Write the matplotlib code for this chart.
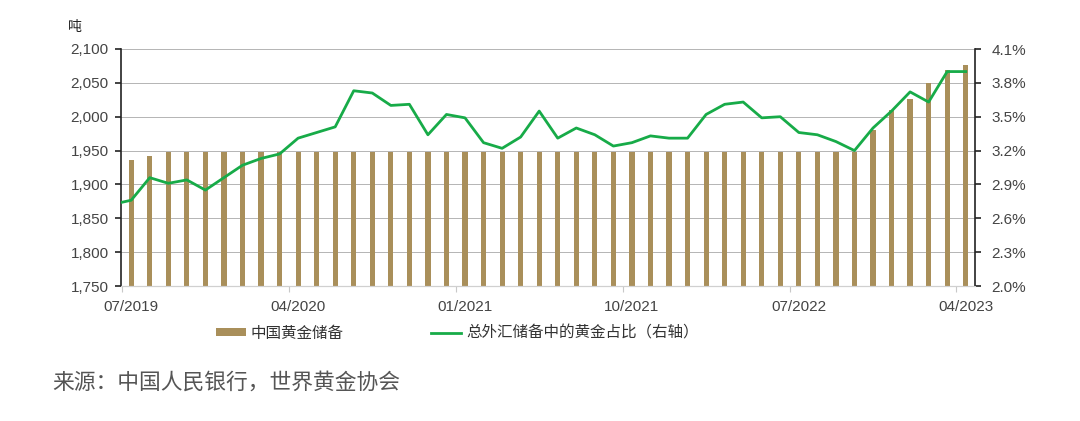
import numpy as np
import matplotlib
matplotlib.use("Agg")
import matplotlib.pyplot as plt
from matplotlib.ticker import FuncFormatter

plt.rcParams['font.family'] = ['Liberation Sans', 'Noto Sans CJK SC', 'DejaVu Sans']

# 月份：07/2019 - 04/2023
months = ['07/2019', '08/2019', '09/2019', '10/2019', '11/2019', '12/2019',
          '01/2020', '02/2020', '03/2020', '04/2020', '05/2020', '06/2020',
          '07/2020', '08/2020', '09/2020', '10/2020', '11/2020', '12/2020',
          '01/2021', '02/2021', '03/2021', '04/2021', '05/2021', '06/2021',
          '07/2021', '08/2021', '09/2021', '10/2021', '11/2021', '12/2021',
          '01/2022', '02/2022', '03/2022', '04/2022', '05/2022', '06/2022',
          '07/2022', '08/2022', '09/2022', '10/2022', '11/2022', '12/2022',
          '01/2023', '02/2023', '03/2023', '04/2023']

# 中国黄金储备（吨）
reserves = [1936.5, 1942.4, 1948.3, 1948.3, 1948.3, 1948.3,
            1948.3, 1948.3, 1948.3, 1948.3, 1948.3, 1948.3,
            1948.3, 1948.3, 1948.3, 1948.3, 1948.3, 1948.3,
            1948.3, 1948.3, 1948.3, 1948.3, 1948.3, 1948.3,
            1948.3, 1948.3, 1948.3, 1948.3, 1948.3, 1948.3,
            1948.3, 1948.3, 1948.3, 1948.3, 1948.3, 1948.3,
            1948.3, 1948.3, 1948.3, 1948.3, 1980.3, 2010.5,
            2025.5, 2050.4, 2068.4, 2076.5]

# 总外汇储备中的黄金占比（%），第一个值为图左端起点
share_start = 2.74
share = [2.76, 2.96, 2.91, 2.94, 2.85, 2.96,
         3.07, 3.13, 3.17, 3.31, 3.36, 3.41,
         3.73, 3.71, 3.60, 3.61, 3.34, 3.52,
         3.49, 3.27, 3.22, 3.32, 3.55, 3.31,
         3.40, 3.34, 3.24, 3.27, 3.33, 3.31,
         3.31, 3.52, 3.61, 3.63, 3.49, 3.50,
         3.36, 3.34, 3.28, 3.20, 3.40, 3.55,
         3.72, 3.63, 3.90, 3.90]

label_months = ['07/2019', '04/2020', '01/2021', '10/2021', '07/2022', '04/2023']

bar_color = '#a98f5a'
line_color = '#17ab48'
text_gray = '#444444'

fig = plt.figure(figsize=(10.8, 4.21), dpi=100)
ax = fig.add_axes([121 / 1080, 1 - 286 / 421, (975 - 121) / 1080, (286 - 49) / 421])
ax2 = ax.twinx()

x = np.arange(len(months))
bars = ax.bar(x, reserves, width=0.28, color=bar_color, zorder=2)
ax.set_ylim(1750, 2100)
ax.set_yticks(np.arange(1750, 2101, 50))
ax.yaxis.set_major_formatter(FuncFormatter(lambda v, p: f'{v:,.0f}'))
ax.set_xlim(-0.55, len(months) - 0.5)
ax.grid(axis='y', color='#b4b4b4', lw=0.7, zorder=0)
ax.set_axisbelow(True)

line_x = np.concatenate([[-0.55], x])
line_y = [share_start] + share
line, = ax2.plot(line_x, line_y, color=line_color, lw=2.0, zorder=3)
ax2.set_ylim(2.0, 4.1)
ax2.set_yticks(np.arange(2.0, 4.11, 0.3))
ax2.yaxis.set_major_formatter(FuncFormatter(lambda v, p: f'{v:.1f}%'))

# x 轴：标签在柱子中间，刻度在分界处
idx = [months.index(m) for m in label_months]
ax.set_xticks(idx)
ax.set_xticklabels(label_months)
ax.set_xticks([i - 0.5 for i in idx], minor=True)
ax.tick_params(axis='x', which='major', length=0, pad=10, labelsize=11, labelcolor=text_gray)
ax.tick_params(axis='x', which='minor', length=4, color='#c8c8c8', width=0.8)

ax.tick_params(axis='y', length=4, width=1.2, color='#222222', pad=5, labelsize=11, labelcolor=text_gray)
ax2.tick_params(axis='y', length=4, width=1.2, color='#222222', pad=8, labelsize=11, labelcolor=text_gray)

for a in (ax, ax2):
    a.spines['top'].set_visible(False)
    a.spines['bottom'].set_color('#d0d0d0')
    a.spines['left'].set_color('#222222')
    a.spines['right'].set_color('#222222')
    a.spines['left'].set_linewidth(1.2)
    a.spines['right'].set_linewidth(1.2)
ax.spines['right'].set_visible(False)
ax2.spines['left'].set_visible(False)

fig.text(68 / 1080, 1 - 27 / 421, '吨', fontsize=10, color='#222222', va='center',
         family=['Noto Sans CJK SC'])

leg = fig.legend([bars, line], ['中国黄金储备', '总外汇储备中的黄金占比（右轴）'],
                 loc='center left', bbox_to_anchor=(216 / 1080, 1 - 333 / 421),
                 ncol=2, frameon=False, handlelength=1.9, handleheight=0.45,
                 handletextpad=0.35, columnspacing=5.6, borderpad=0, borderaxespad=0,
                 prop={'family': ['Noto Sans CJK SC'], 'size': 11.2})
for t in leg.get_texts():
    t.set_color('#333333')

fig.text(52 / 1080, 1 - 383 / 421, '来源：中国人民银行，世界黄金协会', fontsize=15.7,
         color='#555555', va='center', family=['Noto Sans CJK SC'])

fig.savefig('out.png', dpi=100)
